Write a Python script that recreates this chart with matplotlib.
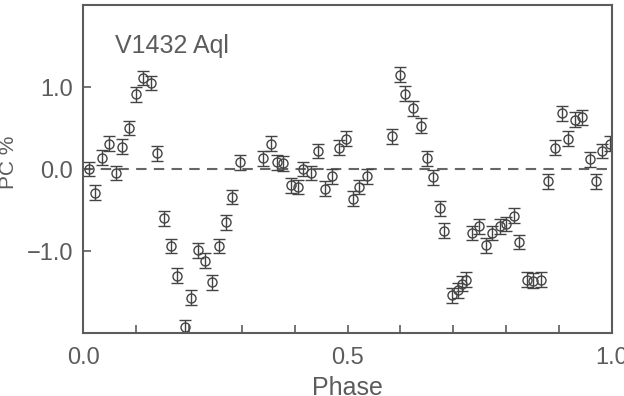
import numpy as np
import matplotlib.pyplot as plt

# Phase and polarisation (PC %)
phase = [0.012, 0.023, 0.035, 0.050, 0.062, 0.074, 0.087, 0.101, 0.114, 0.128,
         0.140, 0.154, 0.166, 0.178, 0.193, 0.205, 0.218, 0.231, 0.244, 0.257,
         0.270, 0.282, 0.297, 0.340, 0.355, 0.366, 0.379, 0.393, 0.407, 0.416,
         0.431, 0.445, 0.457, 0.470, 0.483, 0.497, 0.511, 0.522, 0.536, 0.585,
         0.599, 0.609, 0.624, 0.639, 0.650, 0.662, 0.675, 0.683, 0.698, 0.708,
         0.716, 0.724, 0.735, 0.749, 0.762, 0.773, 0.788, 0.800, 0.815, 0.824,
         0.839, 0.851, 0.865, 0.879, 0.892, 0.905, 0.917, 0.930, 0.944, 0.958,
         0.970, 0.982, 0.996]
pc = [0.00, -0.29, 0.14, 0.31, -0.05, 0.27, 0.50, 0.91, 1.11, 1.05,
      0.19, -0.60, -0.94, -1.30, -1.93, -1.57, -0.99, -1.12, -1.38, -0.94,
      -0.65, -0.34, 0.08, 0.13, 0.31, 0.08, 0.07, -0.20, -0.22, 0.00,
      -0.05, 0.22, -0.24, -0.09, 0.26, 0.37, -0.36, -0.22, -0.09, 0.40,
      1.15, 0.92, 0.74, 0.53, 0.13, -0.10, -0.48, -0.75, -1.54, -1.48,
      -1.40, -1.35, -0.78, -0.70, -0.93, -0.78, -0.70, -0.67, -0.57, -0.89,
      -1.35, -1.36, -1.35, -0.15, 0.26, 0.68, 0.37, 0.60, 0.63, 0.12,
      -0.15, 0.22, 0.31]
err = 0.09

grey = '#5c5c5c'
plt.rcParams['font.family'] = ['Liberation Sans', 'DejaVu Sans']

fig = plt.figure(figsize=(6.24, 3.96), dpi=100)
ax = fig.add_axes([83/624, 1 - 333/396, 529/624, 328/396])

ax.axhline(0, color='#666666', lw=1.5, ls=(0, (5, 3.5)), zorder=1)
ax.errorbar(phase, pc, yerr=err, fmt='o', mfc='none', mec='#444444', ms=6.5, mew=1.0,
            ecolor='#444444', elinewidth=1.0, capsize=4.5, capthick=1.0, zorder=2)

ax.set_xlim(0, 1)
ax.set_ylim(-2, 2)
ax.set_xticks(np.arange(0, 1.01, 0.1))
ax.set_xticklabels(['0.0', '', '', '', '', '0.5', '', '', '', '', '1.0'])
ax.set_yticks([-1, 0, 1])
ax.set_yticklabels(['\u22121.0', '0.0', '1.0'])
ax.tick_params(direction='in', length=5.5, width=1.2, color=grey, labelcolor=grey,
               labelsize=17)
ax.tick_params(axis='x', pad=10)
ax.tick_params(axis='y', pad=7)
for s in ax.spines.values():
    s.set_color(grey)
    s.set_linewidth(1.5)

ax.set_xlabel('Phase', fontsize=18, color=grey)
ax.xaxis.set_label_coords(0.5, -0.131)
ax.set_ylabel('PC %', fontsize=15, color=grey)
ax.yaxis.set_label_coords(-0.122, 0.52)
ax.text(0.0605, 0.875, 'V1432 Aql', transform=ax.transAxes, fontsize=18, color=grey, va='center')

fig.savefig('out.png', dpi=100)
